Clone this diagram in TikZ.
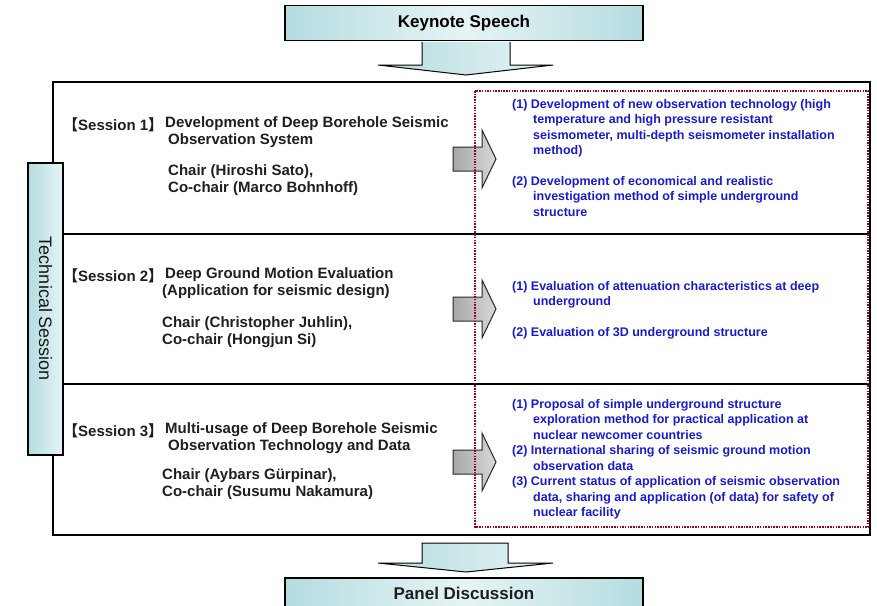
\documentclass[tikz,border=0pt]{standalone}
\usepackage{fontspec}
\setmainfont{Liberation Sans}
\newfontfamily\cjk{Noto Sans CJK JP}
\definecolor{itemblue}{HTML}{1A1AD0}
\definecolor{dotred}{HTML}{A00020}
\definecolor{cyanL}{HTML}{B4DCE0}
\definecolor{cyanM}{HTML}{E6F4F5}
\definecolor{grayL}{HTML}{A8A8A8}
\definecolor{grayM}{HTML}{D8D8D8}
\newcommand{\lb}{{\cjk 【}}
\newcommand{\rb}{{\cjk 】}}
\newcommand{\ind}{\hspace*{21pt}}
\begin{document}
\begin{tikzpicture}[x=1pt,y=-1pt,
  cyanbox/.style={draw=black, line width=1.6pt, left color=cyanL, right color=cyanL, middle color=cyanM},
  downarrow/.style={draw=black, line width=1pt, left color=cyanL, right color=cyanM},
  grayarrow/.style={draw=black!85, line width=1pt, left color=grayL, right color=grayM},
  blk/.style={font=\fontsize{15}{17.5}\selectfont\bfseries, anchor=north west, inner sep=0pt, align=left, text=black!88},
  blu/.style={font=\fontsize{12.5}{15.5}\selectfont\bfseries, text=itemblue, anchor=north west, inner sep=0pt, align=left},
  frame/.style={draw=black, line width=1.8pt}
]
\clip (0,0) rectangle (877,605);
\fill[white] (0,0) rectangle (877,605);

% Keynote
\node[cyanbox, minimum width=358pt, minimum height=35pt, inner sep=0pt,
      font=\fontsize{17}{20}\selectfont\bfseries] (key) at (464,23) {Keynote Speech};
\draw[downarrow] (422,42) -- (422,65) -- (378,65) -- (466,75) -- (553,65) -- (510,65) -- (510,42);

% Outer frame
\draw[frame] (53,82) rectangle (870,535);
\draw[frame] (53,234) -- (870,234);
\draw[frame] (53,384) -- (870,384);

% Technical Session
\node[draw=black, line width=1.8pt, left color=cyanL, right color=cyanM, minimum width=35pt, minimum height=292pt, inner sep=0pt] (ts) at (45.5,309) {};
\node[rotate=-90, font=\fontsize{18}{20}\selectfont, inner sep=0pt, text=black!90] (tst) at (ts.center) {Technical Session};

% Session 1
\node[blk, anchor=west] (s1l) at (63,125) {\lb Session 1\rb};
\node[blk] (s1t) at (165,116) {Development of Deep Borehole Seismic\\\hspace*{3pt}Observation System};
\node[blk] (s1c) at (168,164) {Chair (Hiroshi Sato),\\Co-chair (Marco Bohnhoff)};

% Session 2
\node[blk, anchor=west] (s2l) at (63,276) {\lb Session 2\rb};
\node[blk] (s2t) at (165,267) {Deep Ground Motion Evaluation\\\hspace*{-3pt}(Application for seismic design)};
\node[blk] (s2c) at (162,316) {Chair (Christopher Juhlin),\\Co-chair (Hongjun Si)};

% Session 3
\node[blk, anchor=west] (s3l) at (63,431) {\lb Session 3\rb};
\node[blk] (s3t) at (165,422) {Multi-usage of Deep Borehole Seismic\\\hspace*{3pt}Observation Technology and Data};
\node[blk] (s3c) at (162,468) {Chair (Aybars Gürpinar),\\Co-chair (Susumu Nakamura)};

% Gray arrows
\foreach \n/\yy in {1/159, 2/309, 3/462}{
  \coordinate (g\n) at (453,\yy);
  \draw[grayarrow] (g\n) ++(0,-12) -- ++(29,0) -- ++(0,-17) -- ++(14,29) -- ++(-14,29) -- ++(0,-17) -- ++(-29,0) -- cycle;
}

% Items
\node[blu] (i1) at (512,99) {(1) Development of new observation technology (high\\\ind temperature and high pressure resistant\\\ind seismometer, multi-depth seismometer installation\\\ind method)\\[15pt]
(2) Development of economical and realistic\\\ind investigation method of simple underground\\\ind structure};
\node[blu] (i2) at (512,281) {(1) Evaluation of attenuation characteristics at deep\\\ind underground\\[15pt]
(2) Evaluation of 3D underground structure};
\node[blu] (i3) at (512,399) {(1) Proposal of simple underground structure\\\ind exploration method for practical application at\\\ind nuclear newcomer countries\\
(2) International sharing of seismic ground motion\\\ind observation data\\
(3) Current status of application of seismic observation\\\ind data, sharing and application (of data) for safety of\\\ind nuclear facility};

% Red dotted box
\draw[dotred, line width=2pt, dash pattern=on 1.5pt off 1.2pt] (475,91) rectangle (868,527);

% Bottom arrow and Panel Discussion
\node[cyanbox, minimum width=358pt, minimum height=40pt, inner sep=0pt, anchor=north] (pan) at (464,577) {};
\node[font=\fontsize{17}{20}\selectfont\bfseries, inner sep=0pt, text=black!88] (pant) at (464,593) {Panel Discussion};
\draw[downarrow] (422,543) -- (422,563) -- (378,563) -- (466,572) -- (553,563) -- (508,563) -- (508,543) -- cycle;
\end{tikzpicture}
\end{document}
